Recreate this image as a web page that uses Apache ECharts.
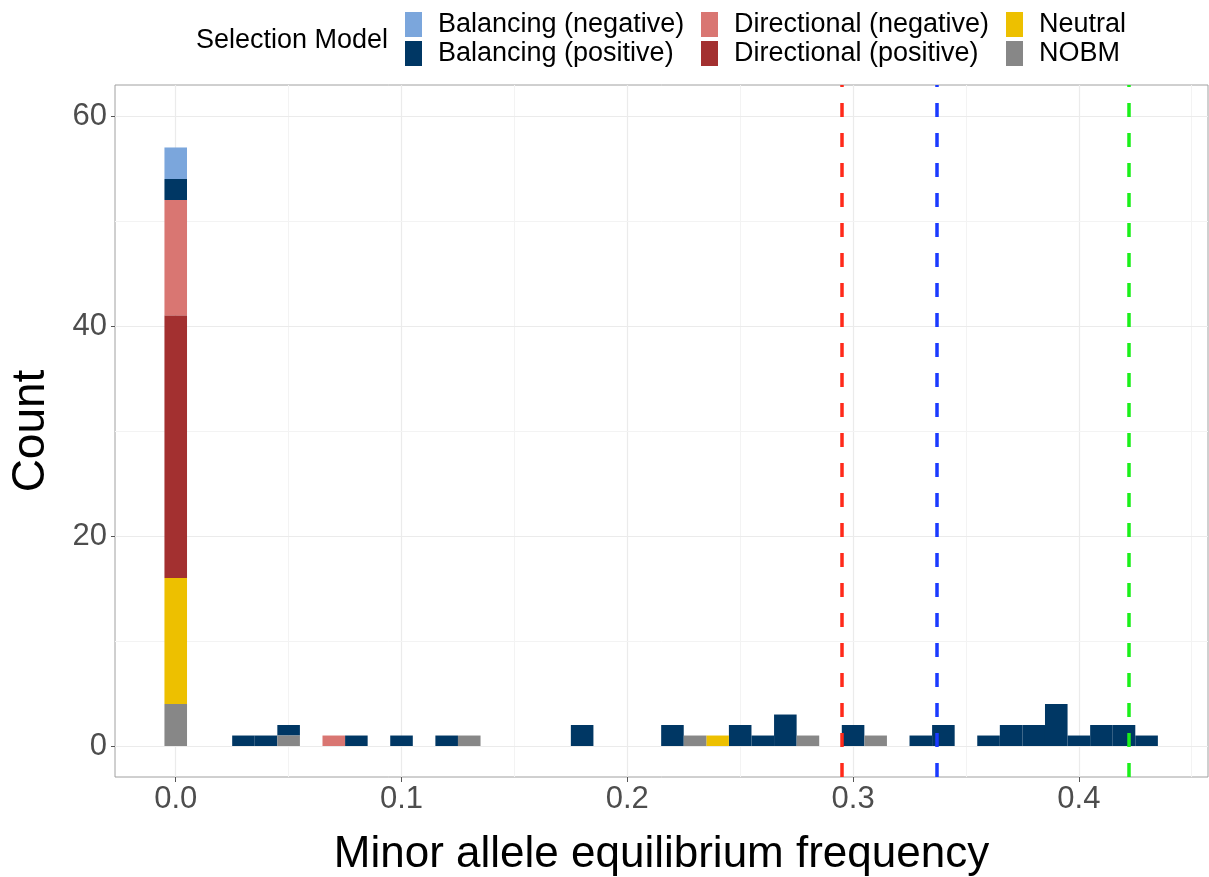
<!DOCTYPE html>
<html>
<head>
<meta charset="utf-8">
<script src="https://cdn.jsdelivr.net/npm/echarts@6/dist/echarts.min.js"></script>
<style>
html,body{margin:0;padding:0;background:#fff;}
#chart{width:1209px;height:877px;}
</style>
</head>
<body>
<div id="chart"></div>
<script>
// ---- data ----
const categories = ['Balancing (negative)', 'Balancing (positive)', 'Directional (negative)', 'Directional (positive)', 'Neutral', 'NOBM'];
const binWidth = 0.01;
const binCenters = [0.00, 0.03, 0.04, 0.05, 0.07, 0.08, 0.10, 0.12, 0.13, 0.18, 0.22, 0.23, 0.24, 0.25, 0.26, 0.27, 0.28, 0.30, 0.31, 0.33, 0.34, 0.36, 0.37, 0.38, 0.39, 0.40, 0.41, 0.42, 0.43];
const balNeg  = [3, 0, 0, 0, 0, 0, 0, 0, 0, 0, 0, 0, 0, 0, 0, 0, 0, 0, 0, 0, 0, 0, 0, 0, 0, 0, 0, 0, 0];
const balPos  = [2, 1, 1, 1, 0, 1, 1, 1, 0, 2, 2, 0, 0, 2, 1, 3, 0, 2, 0, 1, 2, 1, 2, 2, 4, 1, 2, 2, 1];
const dirNeg  = [11, 0, 0, 0, 1, 0, 0, 0, 0, 0, 0, 0, 0, 0, 0, 0, 0, 0, 0, 0, 0, 0, 0, 0, 0, 0, 0, 0, 0];
const dirPos  = [25, 0, 0, 0, 0, 0, 0, 0, 0, 0, 0, 0, 0, 0, 0, 0, 0, 0, 0, 0, 0, 0, 0, 0, 0, 0, 0, 0, 0];
const neutral = [12, 0, 0, 0, 0, 0, 0, 0, 0, 0, 0, 0, 1, 0, 0, 0, 0, 0, 0, 0, 0, 0, 0, 0, 0, 0, 0, 0, 0];
const nobm    = [4, 0, 0, 1, 0, 0, 0, 0, 1, 0, 0, 1, 0, 0, 0, 0, 1, 0, 1, 0, 0, 0, 0, 0, 0, 0, 0, 0, 0];
const xTicks = [0, 0.1, 0.2, 0.3, 0.4];
const yTicks = [0, 20, 40, 60];
const xMinorGrid = [0.05, 0.15, 0.25, 0.35, 0.45];
const yMinorGrid = [10, 30, 50];
const vLines = [0.295, 0.337, 0.422];

// ---- styling ----
const colors = {
  'Balancing (negative)': '#7BA6DC',
  'Balancing (positive)': '#003764',
  'Directional (negative)': '#D97672',
  'Directional (positive)': '#A33030',
  'Neutral': '#EDC000',
  'NOBM': '#878787'
};
const vLineColors = ['#FF2A1A', '#1A3AFF', '#1AF01A'];
const FONT = "'Liberation Sans', Arial, Helvetica, sans-serif";

// stacking order bottom -> top
const stackOrder = [
  ['NOBM', nobm], ['Neutral', neutral], ['Directional (positive)', dirPos],
  ['Directional (negative)', dirNeg], ['Balancing (positive)', balPos], ['Balancing (negative)', balNeg]
];
const base = binCenters.map(() => 0);
const seriesData = {};
stackOrder.forEach(([name, arr]) => {
  seriesData[name] = [];
  arr.forEach((c, i) => {
    if (c > 0) seriesData[name].push([binCenters[i], base[i], base[i] + c]);
    base[i] += c;
  });
});

function renderBar(params, api) {
  const x = api.value(0), y0 = api.value(1), y1 = api.value(2);
  const p0 = api.coord([x - binWidth / 2, y1]);
  const p1 = api.coord([x + binWidth / 2, y0]);
  return {
    type: 'rect',
    shape: { x: p0[0], y: p0[1], width: p1[0] - p0[0], height: p1[1] - p0[1] },
    style: { fill: api.visual('color') }
  };
}

const barSeries = categories.map(name => ({
  name: name,
  type: 'custom',
  renderItem: renderBar,
  itemStyle: { color: colors[name] },
  encode: { x: 0, y: [1, 2] },
  data: seriesData[name],
  z: 2
}));

const gridLineData = []
  .concat(xTicks.map(v => ({ xAxis: v, lineStyle: { color: '#EBEBEB', width: 1.2, type: 'solid' } })))
  .concat(xMinorGrid.map(v => ({ xAxis: v, lineStyle: { color: '#F3F3F3', width: 1, type: 'solid' } })))
  .concat(yTicks.map(v => ({ yAxis: v, lineStyle: { color: '#EBEBEB', width: 1.2, type: 'solid' } })))
  .concat(yMinorGrid.map(v => ({ yAxis: v, lineStyle: { color: '#F3F3F3', width: 1, type: 'solid' } })));

const gridSeries = {
  name: '__grid', type: 'custom', renderItem: () => null, data: [], z: 0, silent: true,
  markLine: { silent: true, symbol: 'none', z: 0, precision: 6, animation: false, label: { show: false },
    emphasis: { disabled: true }, data: gridLineData }
};
const vLineSeries = {
  name: '__vlines', type: 'custom', renderItem: () => null, data: [], z: 5, silent: true,
  markLine: { silent: true, symbol: 'none', z: 5, precision: 6, animation: false, label: { show: false },
    emphasis: { disabled: true },
    data: vLines.map((v, i) => ({ xAxis: v, lineStyle: { color: vLineColors[i], width: 3.5, type: [14, 16] } })) }
};

const legendCommon = {
  orient: 'vertical', top: 11, icon: 'rect', itemWidth: 17, itemHeight: 25, itemGap: 2,
  padding: 0, selectedMode: false,
  textStyle: { fontSize: 27, fontFamily: FONT, color: '#000', lineHeight: 25, padding: [2, 0, 0, 11] }
};

const option = {
  animation: false,
  backgroundColor: '#fff',
  title: { text: 'Selection Model', left: 196, top: 27, padding: 0,
    textStyle: { fontSize: 27, fontWeight: 'normal', fontFamily: FONT, color: '#000' } },
  legend: [
    Object.assign({}, legendCommon, { left: 405, data: ['Balancing (negative)', 'Balancing (positive)'] }),
    Object.assign({}, legendCommon, { left: 701, data: ['Directional (negative)', 'Directional (positive)'] }),
    Object.assign({}, legendCommon, { left: 1006, data: ['Neutral', 'NOBM'] })
  ],
  grid: { left: 115, right: 1, top: 85, bottom: 100, show: true, borderColor: '#A0A0A0', borderWidth: 1,
    backgroundColor: 'transparent', containLabel: false, outerBoundsMode: 'none' },
  xAxis: {
    type: 'value', min: -0.0269, max: 0.4572,
    name: 'Minor allele equilibrium frequency', nameLocation: 'middle', nameGap: 56,
    nameTextStyle: { fontSize: 44, fontFamily: FONT, color: '#000' },
    axisLine: { show: false, onZero: false },
    axisTick: { show: true, length: 5, lineStyle: { color: '#555', width: 1 }, customValues: xTicks },
    axisLabel: { fontSize: 31, fontFamily: FONT, color: '#4D4D4D', margin: 7, customValues: xTicks,
      formatter: v => v.toFixed(1) },
    splitLine: { show: false }
  },
  yAxis: {
    type: 'value', min: -2.95, max: 62.95,
    name: 'Count', nameLocation: 'middle', nameGap: 61, nameRotate: 90,
    nameTextStyle: { fontSize: 46, fontFamily: FONT, color: '#000' },
    axisLine: { show: false, onZero: false },
    axisTick: { show: true, length: 4, lineStyle: { color: '#555', width: 1 }, customValues: yTicks },
    axisLabel: { fontSize: 31, fontFamily: FONT, color: '#4D4D4D', margin: 8, customValues: yTicks,
      formatter: v => String(Math.round(v)) },
    splitLine: { show: false }
  },
  series: [gridSeries].concat(barSeries).concat([vLineSeries])
};

const chart = echarts.init(document.getElementById('chart'), null, { renderer: 'canvas' });
chart.setOption(option);
</script>
</body>
</html>
